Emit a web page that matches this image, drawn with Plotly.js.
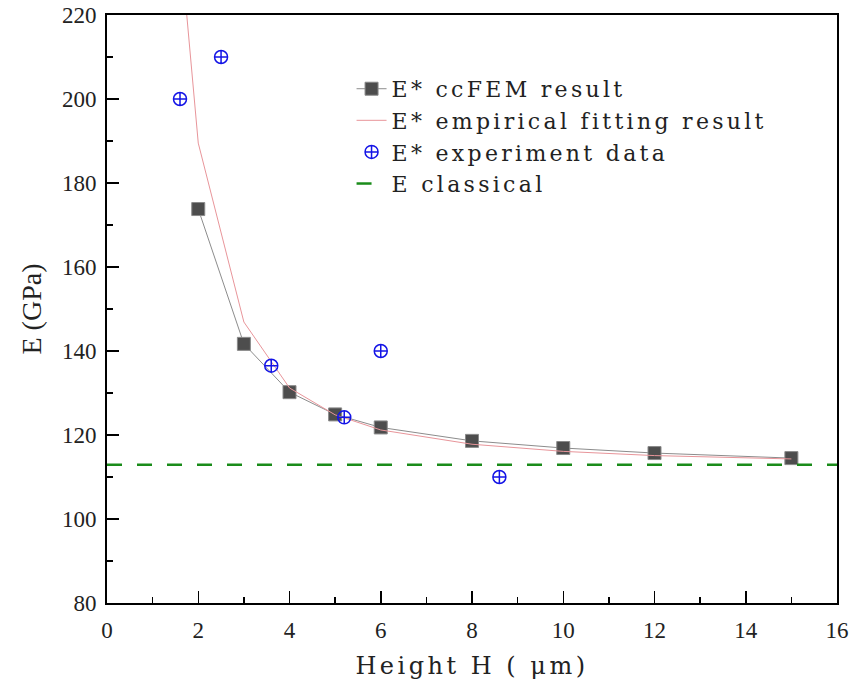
<!DOCTYPE html>
<html>
<head>
<meta charset="utf-8">
<script src="https://cdn.plot.ly/plotly-3.0.1.min.js"></script>
<style>
html,body{margin:0;padding:0;background:#fff;}
#chart{width:856px;height:685px;}
#chart .legendtext{letter-spacing:3.3px;}
#chart .xtitle{letter-spacing:3.5px;}
#chart .legend, #chart .legend .scrollbox, #chart .legend g{clip-path:none !important;}
</style>
</head>
<body>
<div id="chart"></div>
<script>
// ccFEM result
const femH = [2, 3, 4, 5, 6, 8, 10, 12, 15];
const femE = [173.8, 141.7, 130.2, 124.9, 121.8, 118.6, 116.9, 115.7, 114.5];
// empirical fitting result
const fitH = [1.5, 2, 3, 4, 5, 6, 8, 10, 12, 15];
const fitE = [250, 189.5, 146.9, 131.2, 124.8, 121.2, 117.8, 116.1, 115.1, 114.3];
// experiment data
const expH = [1.6, 2.5, 3.6, 5.2, 6.0, 8.6];
const expE = [200, 210, 136.5, 124.2, 140, 110];
// classical
const classH = [0, 16];
const classE = [112.9, 112.9];

const legendFont = "'DejaVu Serif', serif";
const serifFont = "'Liberation Serif', 'Times New Roman', serif";

const traces = [
  {x: femH, y: femE, name: 'E* ccFEM result', mode: 'lines+markers', type: 'scatter',
   line: {color: '#8c8c8c', width: 1},
   marker: {symbol: 'square', size: 13, color: '#4d4d4d', line: {color: '#8a8a8a', width: 1}}},
  {x: fitH, y: fitE, name: 'E* empirical fitting result', mode: 'lines', type: 'scatter',
   line: {color: '#e8959a', width: 1}},
  {x: expH, y: expE, name: 'E* experiment data', mode: 'markers', type: 'scatter',
   marker: {symbol: 'circle-cross-open', size: 13, color: '#1414e6', line: {color: '#1414e6', width: 1.5}}},
  {x: classH, y: classE, name: 'E classical', mode: 'lines', type: 'scatter',
   line: {color: '#1a8c1a', width: 2.5, dash: '15px,15px'}}
];

const axisCommon = {
  showline: true, linecolor: '#000', linewidth: 2, mirror: true,
  ticks: 'inside', ticklen: 12, tickwidth: 1.5, tickcolor: '#000',
  showgrid: false, zeroline: false,
  tickfont: {family: serifFont, size: 23, color: '#222'},
  minor: {ticks: 'inside', ticklen: 6, tickwidth: 1.5, tickcolor: '#000', showgrid: false}
};

const layout = {
  width: 856, height: 685,
  margin: {l: 107, r: 19, t: 15, b: 82},
  paper_bgcolor: '#fff', plot_bgcolor: '#fff',
  showlegend: true,
  legend: {x: 0.335, y: 0.91, xanchor: 'left', yanchor: 'top',
    bgcolor: 'rgba(0,0,0,0)', borderwidth: 0, tracegroupgap: 0,
    font: {family: legendFont, size: 22, color: '#222'}},
  xaxis: Object.assign({}, axisCommon, {
    range: [0, 16], dtick: 2, tick0: 0, ticklabelstandoff: 5,
    minor: Object.assign({}, axisCommon.minor, {dtick: 1}),
    title: {text: 'Height H ( μm)', standoff: 16,
      font: {family: legendFont, size: 24, color: '#222'}}
  }),
  yaxis: Object.assign({}, axisCommon, {
    range: [80, 220], dtick: 20, tick0: 80, ticklabelstandoff: 4,
    minor: Object.assign({}, axisCommon.minor, {dtick: 10}),
    title: {text: 'E (GPa)', standoff: 12,
      font: {family: serifFont, size: 28, color: '#222'}}
  })
};

Plotly.newPlot('chart', traces, layout, {displayModeBar: false, staticPlot: true});
</script>
</body>
</html>
